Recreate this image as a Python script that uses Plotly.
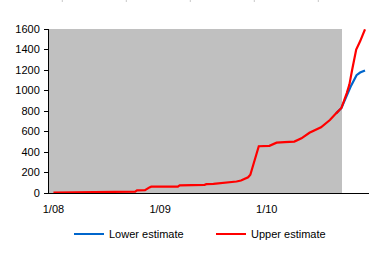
import plotly.graph_objects as go

# months since Jan 2008 (0 = 1/08)
tick_months = [0, 12, 24]
tick_labels = ["1/08", "1/09", "1/10"]

# shaded "past" period: monthly categories 1/08 .. 9/10
shade_months = list(range(0, 33))
shade_value = [1600] * len(shade_months)

# upper estimate (red)
upper_x = [0, 2.0, 2.2, 9.2, 9.4, 10.3, 10.8, 11.0, 14.0, 14.2, 17.0, 17.2, 18.0, 19.0, 20.0,
           20.6, 21.1, 21.6, 21.9, 22.15, 23.1, 24.3, 25.1, 26.0, 27.1, 27.9, 28.8,
           30.1, 31.1, 31.8, 32.4, 33.0, 33.3, 33.6, 33.8, 34.06, 34.5, 35.05]
upper_y = [5, 6, 12, 13, 25, 27, 55, 62, 63, 75, 80, 86, 90, 98, 105,
           112, 122, 137, 153, 178, 456, 460, 491, 496, 502, 533, 588,
           641, 712, 777, 830, 975, 1060, 1200, 1300, 1400, 1480, 1597]

# lower estimate (blue) - diverges only in the forecast period
lower_x = [31.8, 32.4, 33.0, 33.5, 34.1, 34.5, 35.05]
lower_y = [777, 830, 950, 1050, 1150, 1175, 1195]

fig = go.Figure()
fig.add_trace(go.Bar(
    x=shade_months, y=shade_value, width=1.0,
    marker=dict(color="#C0C0C0", line=dict(width=0)),
    showlegend=False, hoverinfo="skip"))
fig.add_trace(go.Scatter(
    x=lower_x, y=lower_y, mode="lines", name="Lower estimate",
    line=dict(color="#0066CC", width=2.2)))
fig.add_trace(go.Scatter(
    x=upper_x, y=upper_y, mode="lines", name="Upper estimate",
    line=dict(color="#FF0000", width=2.2)))

# faint cell-border marks at the very top of the picture
top_marks = [62.3, 126.3, 190.3, 254.3, 318.3]
shapes = [dict(type="line", xref="paper", yref="paper",
               x0=(p - 49) / 320, x1=(p - 49) / 320,
               y0=1 + 27 / 164, y1=1 + 29 / 164,
               line=dict(color="#C8C8C8", width=1)) for p in top_marks]

fig.update_layout(
    width=382, height=253,
    margin=dict(l=49, r=13, t=29, b=60, autoexpand=False),
    paper_bgcolor="white", plot_bgcolor="white",
    bargap=0,
    font=dict(family="Liberation Sans, Arial, sans-serif", size=11, color="black"),
    shapes=shapes,
    legend=dict(orientation="h", xref="container", yref="container",
                x=69 / 382, xanchor="left", y=1 - 234 / 253, yanchor="middle",
                itemwidth=30, entrywidth=97, font=dict(size=11),
                bgcolor="rgba(0,0,0,0)", tracegroupgap=0),
    xaxis=dict(range=[-0.5, 35.5], tickvals=tick_months, ticktext=tick_labels,
               showgrid=False, zeroline=False, showline=True, linecolor="black",
               linewidth=1, ticks="", ticklabelstandoff=6, fixedrange=True),
    yaxis=dict(range=[0, 1600], dtick=200, showgrid=False, zeroline=False,
               showline=True, linecolor="black", linewidth=1, ticks="outside",
               ticklen=4, tickcolor="black", ticklabelstandoff=2, fixedrange=True),
    showlegend=True,
)

fig.write_html("out.html")
